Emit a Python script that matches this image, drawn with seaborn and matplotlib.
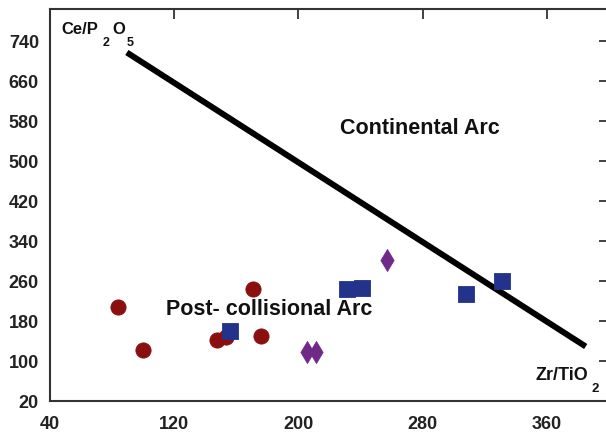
import matplotlib
matplotlib.use("Agg")
import matplotlib.pyplot as plt
import seaborn as sns
import pandas as pd

# Data
circle_x = [84, 100, 147.5, 153.5, 171, 176]
circle_y = [208, 122, 142, 149, 245, 150]
square_x = [156, 231.5, 241, 308, 331]
square_y = [161, 245, 247, 235, 260]
diamond_x = [257, 205.5, 211]
diamond_y = [302, 119, 119]
line_x = [89.5, 385]
line_y = [717, 129]
x_ticks = [40, 120, 200, 280, 360]
y_ticks = [20, 100, 180, 260, 340, 420, 500, 580, 660, 740]

sns.set_theme(style="white")
plt.rcParams['font.family'] = ['Liberation Sans', 'DejaVu Sans']

df = pd.DataFrame({
    'x': circle_x + square_x + diamond_x,
    'y': circle_y + square_y + diamond_y,
    'grp': ['c'] * len(circle_x) + ['s'] * len(square_x) + ['d'] * len(diamond_x),
})

W, H = 606, 437
fig = plt.figure(figsize=(W / 100, H / 100), dpi=100)
ax = fig.add_axes([50 / W, 36 / H, 559 / W, 392 / H])

ax.plot(line_x, line_y, color='black', lw=4.3, solid_capstyle='butt', zorder=2)

palette = {'c': '#8a1010', 's': '#23328a', 'd': '#6e2a86'}
markers = {'c': 'o', 's': 's', 'd': 'd'}
sizes = {'c': 120, 's': 135, 'd': 125}
for g in ['c', 's', 'd']:
    sub = df[df.grp == g]
    sns.scatterplot(data=sub, x='x', y='y', color=palette[g], marker=markers[g],
                    s=sizes[g], linewidth=0.6, edgecolor=palette[g], ax=ax,
                    legend=False, zorder=3)

ax.set_xlim(40, 400)
ax.set_ylim(20, 804)
ax.set_xticks(x_ticks)
ax.set_yticks(y_ticks)
ax.set_xlabel('')
ax.set_ylabel('')
ax.tick_params(direction='in', length=7, width=1.3, color='#333333',
               top=True, right=True, labelsize=13)
ax.tick_params(axis='y', pad=8)
ax.tick_params(axis='x', pad=11)
for lab in ax.get_xticklabels() + ax.get_yticklabels():
    lab.set_fontweight('bold')
    lab.set_color('#222222')
for sp in ax.spines.values():
    sp.set_color('#333333')
    sp.set_linewidth(1.5)

ax.text(278, 566, 'Continental Arc', fontsize=15.5, fontweight='bold',
        ha='center', va='center', color='#111111')
ax.text(181, 203, 'Post- collisional Arc', fontsize=15.5, fontweight='bold',
        ha='center', va='center', color='#111111')


def ftext(px, py, s, size=13):
    fig.text(px / W, 1 - py / H, s, fontsize=size, fontweight='bold',
             ha='left', va='baseline', color='#111111')


# y-axis label Ce/P2O5 with dropped subscripts
ftext(61, 33.5, 'Ce/P', size=12)
ftext(102.5, 45.5, '2', size=9)
ftext(112.5, 33.5, 'O', size=12)
ftext(126.5, 46, '5', size=9)
# x-axis label Zr/TiO2
ftext(535, 380, 'Zr/TiO', size=13)
ftext(591, 391.5, '2', size=9.5)

fig.savefig('out.png', dpi=100)
